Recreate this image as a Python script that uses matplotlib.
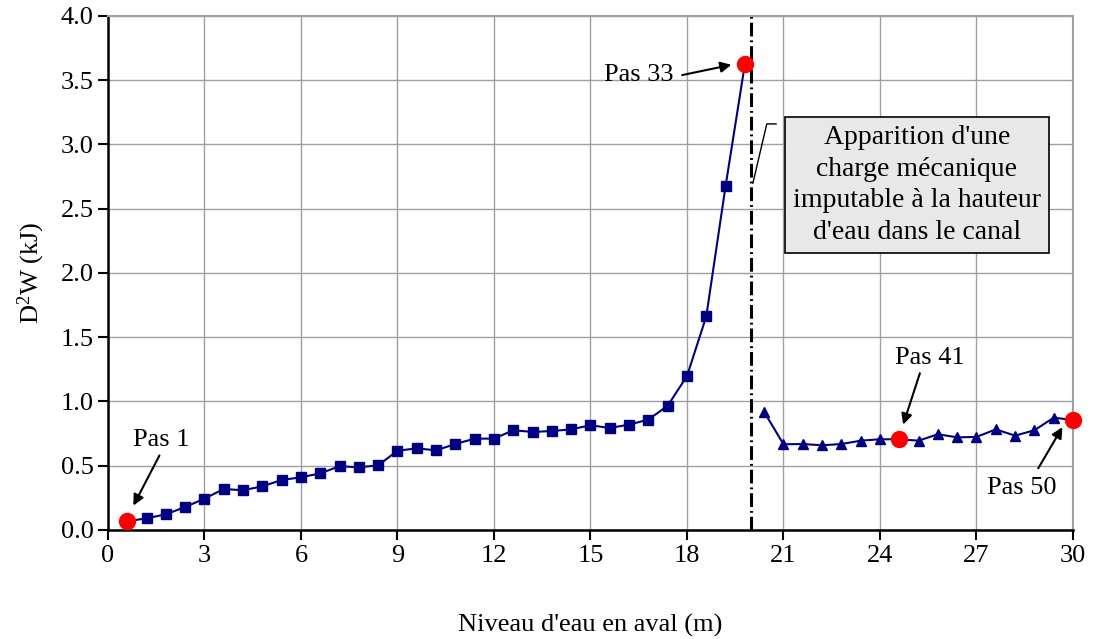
import matplotlib
matplotlib.use("Agg")
import matplotlib.pyplot as plt

plt.rcParams['font.family'] = ['Liberation Serif', 'DejaVu Serif']
plt.rcParams['mathtext.fontset'] = 'custom'
plt.rcParams['mathtext.rm'] = 'Liberation Serif'
plt.rcParams['mathtext.it'] = 'Liberation Serif:italic'

# avant l'apparition de la charge mecanique (pas 1 a 33)
niveau_1 = [0.6, 1.2, 1.8, 2.4, 3.0, 3.6, 4.2, 4.8, 5.4, 6.0, 6.6, 7.2, 7.8, 8.4, 9.0,
            9.6, 10.2, 10.8, 11.4, 12.0, 12.6, 13.2, 13.8, 14.4, 15.0, 15.6, 16.2,
            16.8, 17.4, 18.0, 18.6, 19.2, 19.8]
d2w_1 = [0.068, 0.091, 0.122, 0.179, 0.244, 0.319, 0.309, 0.340, 0.389, 0.410, 0.441,
         0.496, 0.488, 0.503, 0.617, 0.635, 0.620, 0.669, 0.711, 0.711, 0.776, 0.763,
         0.770, 0.783, 0.815, 0.794, 0.820, 0.859, 0.967, 1.198, 1.663, 2.677, 3.626]

# apres (pas 34 a 50)
niveau_2 = [20.4, 21.0, 21.6, 22.2, 22.8, 23.4, 24.0, 24.6, 25.2, 25.8, 26.4, 27.0,
            27.6, 28.2, 28.8, 29.4, 30.0]
d2w_2 = [0.918, 0.667, 0.669, 0.659, 0.669, 0.695, 0.706, 0.706, 0.695, 0.745, 0.721,
         0.724, 0.783, 0.734, 0.776, 0.874, 0.856]

niveau_tous = niveau_1 + niveau_2
d2w_tous = d2w_1 + d2w_2
pas_marques = [1, 33, 41, 50]

fig = plt.figure(figsize=(10.93, 6.39), dpi=100)
ax = fig.add_axes([0.0988, 0.1706, 0.8829, 0.8044])

ax.plot(niveau_1, d2w_1, color='#000080', lw=1.5, marker='s', ms=6.5, zorder=3)
ax.plot(niveau_2, d2w_2, color='#000080', lw=1.5, marker='^', ms=7.5, zorder=3)
ax.plot([niveau_tous[p - 1] for p in pas_marques], [d2w_tous[p - 1] for p in pas_marques],
        'o', color='#ff0000', ms=11.5, zorder=4, linestyle='none', clip_on=False)

ax.axvline(20.0, color='black', lw=2.2, linestyle=(0, (4.5, 1.3, 0.6, 1.3)), zorder=2)

ax.set_xlim(0, 30)
ax.set_ylim(0, 4.0)
ax.set_xticks(range(0, 31, 3))
ax.set_yticks([i * 0.5 for i in range(9)])
ax.set_yticklabels(['%.1f' % (i * 0.5) for i in range(9)])
ax.grid(True, color='#a0a0a0', lw=1)
ax.set_axisbelow(True)
for s in ['top', 'right']:
    ax.spines[s].set_color('#a0a0a0')
    ax.spines[s].set_linewidth(1.5)
for s in ['left', 'bottom']:
    ax.spines[s].set_linewidth(1.8)
ax.tick_params(direction='out', length=7, width=1.5, labelsize=19)

ax.set_xlabel("Niveau d'eau en aval (m)", fontsize=19, labelpad=34)
ax.set_ylabel("D$^2$W (kJ)", fontsize=19, labelpad=10)

fleche = dict(arrowstyle='-|>', color='black', lw=1.5, mutation_scale=16, shrinkA=0, shrinkB=0)
ax.text(1.67, 0.70, "Pas 1", fontsize=19, ha='center', va='center')
ax.annotate("", xy=(0.79, 0.19), xytext=(1.6, 0.58), arrowprops=fleche)
ax.text(16.5, 3.54, "Pas 33", fontsize=19, ha='center', va='center')
ax.annotate("", xy=(19.38, 3.62), xytext=(17.85, 3.54), arrowprops=fleche)
ax.text(25.55, 1.34, "Pas 41", fontsize=19, ha='center', va='center')
ax.annotate("", xy=(24.72, 0.82), xytext=(25.24, 1.22), arrowprops=fleche)
ax.text(28.4, 0.33, "Pas 50", fontsize=19, ha='center', va='center')
ax.annotate("", xy=(29.67, 0.80), xytext=(28.92, 0.48), arrowprops=fleche)

ax.text(25.15, 2.685, "Apparition d'une\ncharge mécanique\nimputable à la hauteur\nd'eau dans le canal",
        fontsize=20, ha='center', va='center', linespacing=1.35, zorder=5,
        bbox=dict(boxstyle='square,pad=0.3', fc='#e8e8e8', ec='black', lw=1.2))
ax.plot([20.77, 20.48, 20.05], [3.16, 3.16, 2.70], color='black', lw=1, zorder=5)

fig.savefig("out.png", dpi=100)
